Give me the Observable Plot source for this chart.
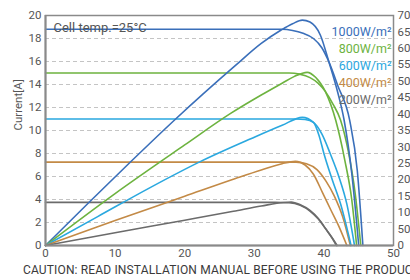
<!DOCTYPE html>
<html>
<head>
<meta charset="utf-8">
<script src="https://cdn.jsdelivr.net/npm/d3@7"></script>
<script src="https://cdn.jsdelivr.net/npm/@observablehq/plot@0.6"></script>
<style>
  html, body { margin: 0; padding: 0; background: #fff; }
  #chart { width: 410px; height: 280px; overflow: hidden; position: relative; }
  #caption { position: absolute; left: 23px; top: 263px; white-space: nowrap;
    font-family: Roboto, "DejaVu Sans", sans-serif; font-size: 12px; color: #3a3a3a; letter-spacing: 0.15px; }
</style>
</head>
<body>
<div id="chart"></div>
<script>
// ---- data ----
const seriesNames = ["1000W/m²", "800W/m²", "600W/m²", "400W/m²", "200W/m²"];
const seriesColors = ["#3a6fba", "#6db33f", "#2aa8df", "#c38a46", "#6b6b6b"];
const xTicks = [0, 10, 20, 30, 40, 50];
const yTicks = [0, 2, 4, 6, 8, 10, 12, 14, 16, 18, 20];
const powerTicks = [0, 50, 100, 150, 200, 250, 300, 350, 400, 450, 500, 550, 600, 650, 700];
const gridValues = [2, 4, 6, 8, 10, 12, 14, 16, 18];
const currentMax = 20;
const powerMax = 700;

// current curves: voltage [V], current [A]
const iv1000V = [0, 34, 35.5, 37, 38.5, 39.7, 40.7, 42, 43.7, 44.8, 45.6];
const iv1000I = [18.8, 18.8, 18.7, 18.45, 18.0, 17.2, 16.0, 13.9, 10.9, 6.5, 0];
const iv800V = [0, 35, 36.5, 38, 39.2, 40.2, 41.3, 42.4, 43.5, 44.5, 45.3];
const iv800I = [15.0, 15.0, 14.9, 14.6, 14.1, 13.4, 12.3, 10.9, 8.2, 4.5, 0];
const iv600V = [0, 36, 37.3, 38.5, 39.7, 40.9, 42.2, 43.3, 44.4];
const iv600I = [11.0, 11.0, 10.95, 10.7, 9.7, 8.0, 5.9, 3.6, 0];
const iv400V = [0, 36, 37.5, 39, 40.3, 41.5, 42.7, 43.8];
const iv400I = [7.25, 7.25, 7.1, 6.6, 5.6, 4.3, 2.5, 0];
const iv200V = [0, 33, 35, 36.6, 38, 39.2, 40.3, 41.2, 41.9];
const iv200I = [3.75, 3.75, 3.72, 3.5, 3.0, 2.3, 1.4, 0.65, 0];

// power curves: voltage [V], power [W]
const pv1000V = [0, 6.2, 12.2, 18.7, 27.3, 31, 33.8, 35.5, 36.9, 38, 39.5, 40.7, 42, 42.9, 44, 45];
const pv1000P = [0, 130, 254, 385, 548, 615, 655, 675, 686, 680, 640, 560, 465, 382, 220, 0];
const pv800V = [0, 10, 20, 26.6, 31, 34, 35.7, 37.6, 38.8, 40.2, 41.7, 43, 44, 44.7];
const pv800P = [0, 158, 306, 402, 458, 494, 514, 527, 512, 469, 381, 260, 140, 0];
const pv600V = [0, 7.5, 15.1, 22.3, 29.5, 34, 36.9, 38.5, 39.3, 40, 41.2, 42.4, 43.9];
const pv600P = [0, 88, 177, 256, 325, 366, 390, 375, 335, 280, 200, 126, 0];
const pv400V = [0, 10, 20, 27.3, 31, 34, 35.9, 37.3, 38.5, 39.8, 41, 42.2, 43.3];
const pv400P = [0, 76, 150, 204, 230, 249, 256, 245, 217, 161, 108, 56, 0];
const pv200V = [0, 10, 20, 27, 31, 34.2, 35.3, 36.6, 38, 39.2, 40.3, 41.2, 41.8];
const pv200P = [0, 39, 77, 104, 120, 131, 132, 124, 107, 82, 50, 22, 0];

const ivV = [iv1000V, iv800V, iv600V, iv400V, iv200V];
const ivI = [iv1000I, iv800I, iv600I, iv400I, iv200I];
const pvV = [pv1000V, pv800V, pv600V, pv400V, pv200V];
const pvP = [pv1000P, pv800P, pv600P, pv400P, pv200P];

// ---- build tables ----
const ivData = [], pvData = [];
seriesNames.forEach((s, k) => {
  ivV[k].forEach((v, j) => ivData.push({s, v, i: ivI[k][j]}));
  pvV[k].forEach((v, j) => pvData.push({s, v, p: pvP[k][j]}));
});
const wPerA = powerMax / currentMax;
const font = "Roboto, 'DejaVu Sans', sans-serif";

const legendMarks = seriesNames.map((name, k) =>
  Plot.text([name], {frameAnchor: "top-right", dx: -2, dy: 12 + k * 16.8, text: d => d,
    fill: seriesColors[k], fontSize: 12.5, textAnchor: "end"}));

const chart = Plot.plot({
  width: 410, height: 262,
  marginTop: 15, marginBottom: 17, marginLeft: 45, marginRight: 17,
  style: {fontFamily: font, fontSize: "11px", color: "#555", background: "#fff"},
  x: {domain: [0, 50]},
  y: {domain: [0, currentMax]},
  color: {domain: seriesNames, range: seriesColors},
  marks: [
    Plot.ruleY(gridValues, {stroke: "#c4c4c4", strokeDasharray: "4,3", strokeWidth: 1}),
    Plot.axisX({ticks: xTicks, tickSize: 0, tickPadding: 3, label: null, fontSize: 11.5}),
    Plot.axisY({ticks: yTicks, tickSize: 0, tickPadding: 4, label: null, fontSize: 11.5}),
    Plot.axisY({anchor: "right", ticks: powerTicks.map(p => p / wPerA), tickFormat: d => String(Math.round(d * wPerA)),
      tickSize: 0, tickPadding: 4, label: null, fontSize: 11.5}),
    Plot.line(ivData, {x: "v", y: "i", z: "s", stroke: "s", strokeWidth: 1.6, curve: "monotone-x"}),
    Plot.line(pvData, {x: "v", y: d => d.p / wPerA, z: "s", stroke: "s", strokeWidth: 1.6, curve: "monotone-x"}),
    Plot.frame({stroke: "#8a8a8a", strokeWidth: 1.5}),
    Plot.ruleX([0], {stroke: "#8a8a8a", strokeWidth: 2}),
    Plot.ruleY([0], {stroke: "#8a8a8a", strokeWidth: 2}),
    Plot.text(["Cell temp.=25°C"], {frameAnchor: "top-left", dx: 8, dy: 7, text: d => d, fill: "#555", fontSize: 13, textAnchor: "start"}),
    Plot.text(["Current[A]"], {frameAnchor: "left", dx: -27, rotate: -90, text: d => d, fill: "#555", fontSize: 11.5}),
    ...legendMarks
  ]
});
const holder = document.getElementById("chart");
holder.appendChild(chart);
const cap = document.createElement("div");
cap.id = "caption";
cap.textContent = "CAUTION: READ INSTALLATION MANUAL BEFORE USING THE PRODUCT";
holder.appendChild(cap);
</script>
</body>
</html>
